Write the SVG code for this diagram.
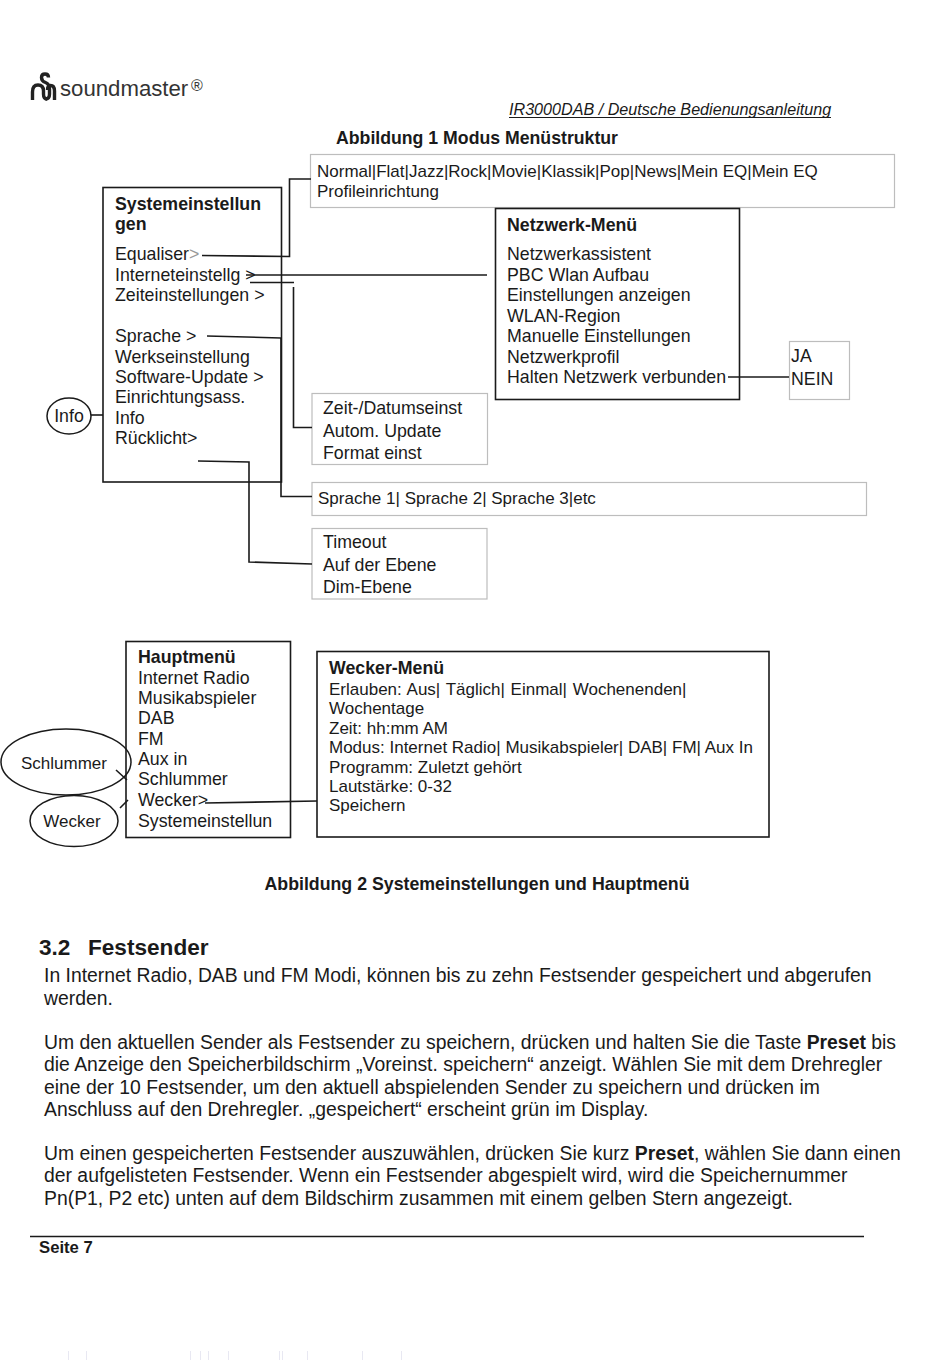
<svg xmlns="http://www.w3.org/2000/svg" width="950" height="1360" viewBox="0 0 950 1360">
<style>
text{font-family:"Liberation Sans",Arial,sans-serif;fill:#1a1a1a}
.m{font-size:17.75px}
.s{font-size:17px}
.b{font-weight:bold}
.p{font-size:19.38px}
.box{fill:none;stroke:#1a1a1a;stroke-width:1.6}
.lbox{fill:#fff;stroke:#bdbdbd;stroke-width:1.2}
.c{fill:none;stroke:#1a1a1a;stroke-width:1.6}
.e{fill:none;stroke:#1a1a1a;stroke-width:1.5}
</style>
<rect width="950" height="1360" fill="#fff"/>
<g id="logo">
<path d="M32.500 100V92Q32.500 85 38 85Q43.500 85 43.500 91V94Q43.500 99 47 99" fill="none" stroke="#222" stroke-width="3.4"/>
<path d="M41.500 77.500Q41.500 74 45 74Q48.500 74 48.500 77.500M41.500 77.500Q41.500 81 45.500 82.500Q49.500 84 49.500 89V94Q49.500 99 45.500 99" fill="none" stroke="#222" stroke-width="3.4"/>
<path d="M47.500 90Q47.500 85.500 50.500 85.500Q54.500 85.500 54.500 91V100" fill="none" stroke="#222" stroke-width="3.4"/>
<text x="60" y="96" font-size="22.2" style="fill:#333">soundmaster</text>
<text x="191" y="91" font-size="16" style="fill:#333">®</text>
</g>
<text x="509" y="115" font-size="16.15" font-style="italic">IR3000DAB / Deutsche Bedienungsanleitung</text>
<line x1="509" y1="117.500" x2="831" y2="117.500" stroke="#1a1a1a" stroke-width="1"/>
<text x="336" y="144" class="b" font-size="17.7">Abbildung 1 Modus Menüstruktur</text>
<g id="equalizer-box"><rect class="lbox" x="310.500" y="154.500" width="584" height="53"/>
<text class="s" x="317" y="177">Normal|Flat|Jazz|Rock|Movie|Klassik|Pop|News|Mein EQ|Mein EQ</text>
<text class="s" x="317" y="197">Profileinrichtung</text></g>
<g id="systemeinstellungen"><rect class="box" x="103" y="187.500" width="178.500" height="294.500"/>
<text class="m b" x="115" y="210">Systemeinstellun</text><text class="m b" x="115" y="230">gen</text>
<text class="m" x="115" y="260">Equaliser<tspan style="fill:#999">&gt;</tspan></text>
<text class="m" x="115" y="281">Interneteinstellg &gt;</text>
<text class="m" x="115" y="301">Zeiteinstellungen &gt;</text>
<text class="m" x="115" y="342">Sprache &gt;</text>
<text class="m" x="115" y="363">Werkseinstellung</text>
<text class="m" x="115" y="383">Software-Update &gt;</text>
<text class="m" x="115" y="403">Einrichtungsass.</text>
<text class="m" x="115" y="424">Info</text>
<text class="m" x="115" y="444">Rücklicht&gt;</text></g>
<g id="netzwerk-menu"><rect class="box" x="495.500" y="208.500" width="244" height="191"/>
<text class="m b" x="507" y="231">Netzwerk-Menü</text>
<text class="m" x="507" y="260">Netzwerkassistent</text>
<text class="m" x="507" y="281">PBC Wlan Aufbau</text>
<text class="m" x="507" y="301">Einstellungen anzeigen</text>
<text class="m" x="507" y="322">WLAN-Region</text>
<text class="m" x="507" y="342">Manuelle Einstellungen</text>
<text class="m" x="507" y="363">Netzwerkprofil</text>
<text class="m" x="507" y="383">Halten Netzwerk verbunden</text></g>
<g id="ja-nein"><rect class="lbox" x="789.500" y="341.500" width="60" height="58"/>
<text class="m" x="791" y="362">JA</text><text class="m" x="791" y="385">NEIN</text></g>
<g id="info"><ellipse class="e" cx="69" cy="416" rx="22" ry="18"/><text class="m" x="69" y="422" text-anchor="middle">Info</text></g>
<g id="zeit-box"><rect class="lbox" x="312" y="393.500" width="175.500" height="71"/>
<text class="m" x="323" y="414">Zeit-/Datumseinst</text><text class="m" x="323" y="437">Autom. Update</text><text class="m" x="323" y="459">Format einst</text></g>
<g id="sprache-box"><rect class="lbox" x="312" y="482.500" width="554.500" height="33"/>
<text class="s" x="318" y="504">Sprache 1| Sprache 2| Sprache 3|etc</text></g>
<g id="timeout-box"><rect class="lbox" x="312" y="528.500" width="175" height="70.500"/>
<text class="m" x="323" y="548">Timeout</text><text class="m" x="323" y="571">Auf der Ebene</text><text class="m" x="323" y="593">Dim-Ebene</text></g>
<g id="hauptmenu"><rect class="box" x="126" y="641.500" width="164.500" height="196"/>
<text class="m b" x="138" y="663">Hauptmenü</text>
<text class="m" x="138" y="684">Internet Radio</text>
<text class="m" x="138" y="704">Musikabspieler</text>
<text class="m" x="138" y="724">DAB</text>
<text class="m" x="138" y="745">FM</text>
<text class="m" x="138" y="765">Aux in</text>
<text class="m" x="138" y="785">Schlummer</text>
<text class="m" x="138" y="806">Wecker&gt;</text>
<text class="m" x="138" y="827">Systemeinstellun</text></g>
<g id="wecker-menu"><rect class="box" x="317" y="651.500" width="452" height="185.500"/>
<text class="m b" x="329" y="674">Wecker-Menü</text>
<text class="s" x="329" y="695" word-spacing="1">Erlauben: Aus| Täglich| Einmal| Wochenenden|</text>
<text class="s" x="329" y="714">Wochentage</text>
<text class="s" x="329" y="734">Zeit: hh:mm AM</text>
<text class="s" x="329" y="753">Modus: Internet Radio| Musikabspieler| DAB| FM| Aux In</text>
<text class="s" x="329" y="773">Programm: Zuletzt gehört</text>
<text class="s" x="329" y="792">Lautstärke: 0-32</text>
<text class="s" x="329" y="811">Speichern</text></g>
<g id="schlummer"><ellipse class="e" cx="66" cy="762" rx="65" ry="33"/><text class="s" x="64" y="769" text-anchor="middle">Schlummer</text></g>
<g id="wecker"><ellipse class="e" cx="74" cy="821" rx="44" ry="25.500"/><text class="s" x="72" y="827" text-anchor="middle">Wecker</text></g>
<g id="connectors">
<path class="c" d="M202 255.500L289.500 256.500V179H311"/>
<path class="c" d="M246 275H487"/>
<path class="c" d="M250 282.500H294"/>
<path class="c" d="M293.500 287V427.500H312"/>
<path class="c" d="M207 336L281 338"/>
<path class="c" d="M281 338V496.500H312"/>
<path class="c" d="M198 461L249 462V562L312 564"/>
<path class="c" d="M728 377H789"/>
<path class="c" d="M91 415H103"/>
<path class="c" d="M205 803L317 801"/>
<path class="c" d="M116 770L127 780M120 808L128 800"/>
</g>
<text x="477" y="890" class="b" font-size="17.75" text-anchor="middle">Abbildung 2 Systemeinstellungen und Hauptmenü</text>
<text x="39" y="955" class="b" font-size="22.6">3.2</text><text x="88" y="955" class="b" font-size="22.6">Festsender</text>
<g class="body">
<text class="p" x="44" y="982">In Internet Radio, DAB und FM Modi, können bis zu zehn Festsender gespeichert und abgerufen</text>
<text class="p" x="44" y="1005">werden.</text>
<text class="p" x="44" y="1049">Um den aktuellen Sender als Festsender zu speichern, drücken und halten Sie die Taste <tspan class="b">Preset</tspan> bis</text>
<text class="p" x="44" y="1071">die Anzeige den Speicherbildschirm „Voreinst. speichern“ anzeigt. Wählen Sie mit dem Drehregler</text>
<text class="p" x="44" y="1094">eine der 10 Festsender, um den aktuell abspielenden Sender zu speichern und drücken im</text>
<text class="p" x="44" y="1116">Anschluss auf den Drehregler. „gespeichert“ erscheint grün im Display.</text>
<text class="p" x="44" y="1160">Um einen gespeicherten Festsender auszuwählen, drücken Sie kurz <tspan class="b">Preset</tspan>, wählen Sie dann einen</text>
<text class="p" x="44" y="1182">der aufgelisteten Festsender. Wenn ein Festsender abgespielt wird, wird die Speichernummer</text>
<text class="p" x="44" y="1205">Pn(P1, P2 etc) unten auf dem Bildschirm zusammen mit einem gelben Stern angezeigt.</text>
</g>
<line x1="30" y1="1236.500" x2="864" y2="1236.500" stroke="#1a1a1a" stroke-width="1.6"/>
<text x="39" y="1253" class="b" font-size="16.7">Seite 7</text>
<path d="M68.500 1351V1360M86.500 1351V1360M190.500 1351V1360M200.500 1351V1360M208.500 1351V1360M228.500 1351V1360M279.500 1351V1360M282.500 1351V1360M307.500 1351V1360M362.500 1351V1360M401.500 1351V1360" stroke="#e8e8f2" stroke-width="1"/>
</svg>
